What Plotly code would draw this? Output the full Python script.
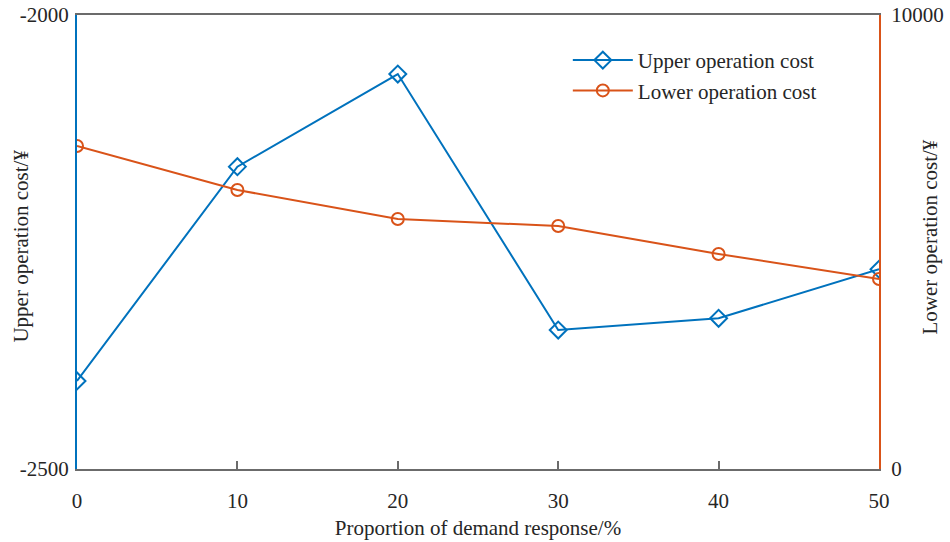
import plotly.graph_objects as go

# Demand response share (%) and the two cost series
proportion = [0, 10, 20, 30, 40, 50]
upper_cost = [-2403, -2167, -2065, -2347, -2334, -2280]
lower_cost = [7115, 6145, 5507, 5352, 4736, 4185]

x_ticks = [0, 10, 20, 30, 40, 50]
left_ticks = [-2500, -2000]
right_ticks = [0, 10000]

BLUE = "#0072BD"
ORANGE = "#D95319"
FRAME = "#6b6b6b"
TEXT = "#262626"
FONT = "Liberation Serif, Times New Roman, serif"
FS = 21

fig = go.Figure()

fig.add_trace(go.Scatter(
    x=proportion, y=upper_cost, name="Upper operation cost",
    mode="lines+markers",
    line=dict(color=BLUE, width=2),
    marker=dict(symbol="diamond-open", size=13, color=BLUE, line=dict(width=2, color=BLUE)),
    yaxis="y",
))
fig.add_trace(go.Scatter(
    x=proportion, y=lower_cost, name="Lower operation cost",
    mode="lines+markers",
    line=dict(color=ORANGE, width=2),
    marker=dict(symbol="circle-open", size=12, color=ORANGE, line=dict(width=2, color=ORANGE)),
    yaxis="y2",
))

fig.update_layout(
    width=950, height=542,
    margin=dict(l=77, r=71, t=15, b=73),
    paper_bgcolor="white", plot_bgcolor="white",
    font=dict(family=FONT, size=FS, color=TEXT),
    showlegend=True,
    legend=dict(
        x=0.612, y=0.945, xanchor="left", yanchor="top",
        bgcolor="rgba(255,255,255,0)", borderwidth=0,
        font=dict(family=FONT, size=FS, color=TEXT),
        itemwidth=60, tracegroupgap=0,
    ),
    xaxis=dict(
        range=[0, 50], tickvals=x_ticks, ticktext=[str(v) for v in x_ticks],
        showgrid=False, zeroline=False, automargin=False,
        showline=True, linecolor=FRAME, linewidth=2, mirror=True,
        ticks="inside", ticklen=8, tickwidth=1.5, tickcolor=FRAME,
        ticklabelstandoff=12,
        title=dict(text="Proportion of demand response/%", standoff=8,
                   font=dict(family=FONT, size=FS, color=TEXT)),
    ),
    yaxis=dict(
        range=[-2500, -2000], tickvals=left_ticks, ticktext=[str(v) for v in left_ticks],
        showgrid=False, zeroline=False, automargin=False,
        showline=True, linecolor=BLUE, linewidth=2,
        ticks="", ticklabelstandoff=2,
    ),
    yaxis2=dict(
        range=[0, 10000], tickvals=right_ticks, ticktext=[str(v) for v in right_ticks],
        overlaying="y", side="right", anchor="x",
        showgrid=False, zeroline=False, automargin=False,
        showline=True, linecolor=ORANGE, linewidth=2,
        ticks="", ticklabelstandoff=6,
    ),
)

# Vertical axis titles placed beside each axis
fig.add_annotation(
    text="Upper operation cost/¥", textangle=-90,
    xref="paper", yref="paper", x=-0.0698, y=0.49,
    xanchor="center", yanchor="middle", showarrow=False,
    font=dict(family=FONT, size=FS, color=TEXT),
)
fig.add_annotation(
    text="Lower operation cost/¥", textangle=-90,
    xref="paper", yref="paper", x=1.0636, y=0.51,
    xanchor="center", yanchor="middle", showarrow=False,
    font=dict(family=FONT, size=FS, color=TEXT),
)

fig.write_html("out.html")
